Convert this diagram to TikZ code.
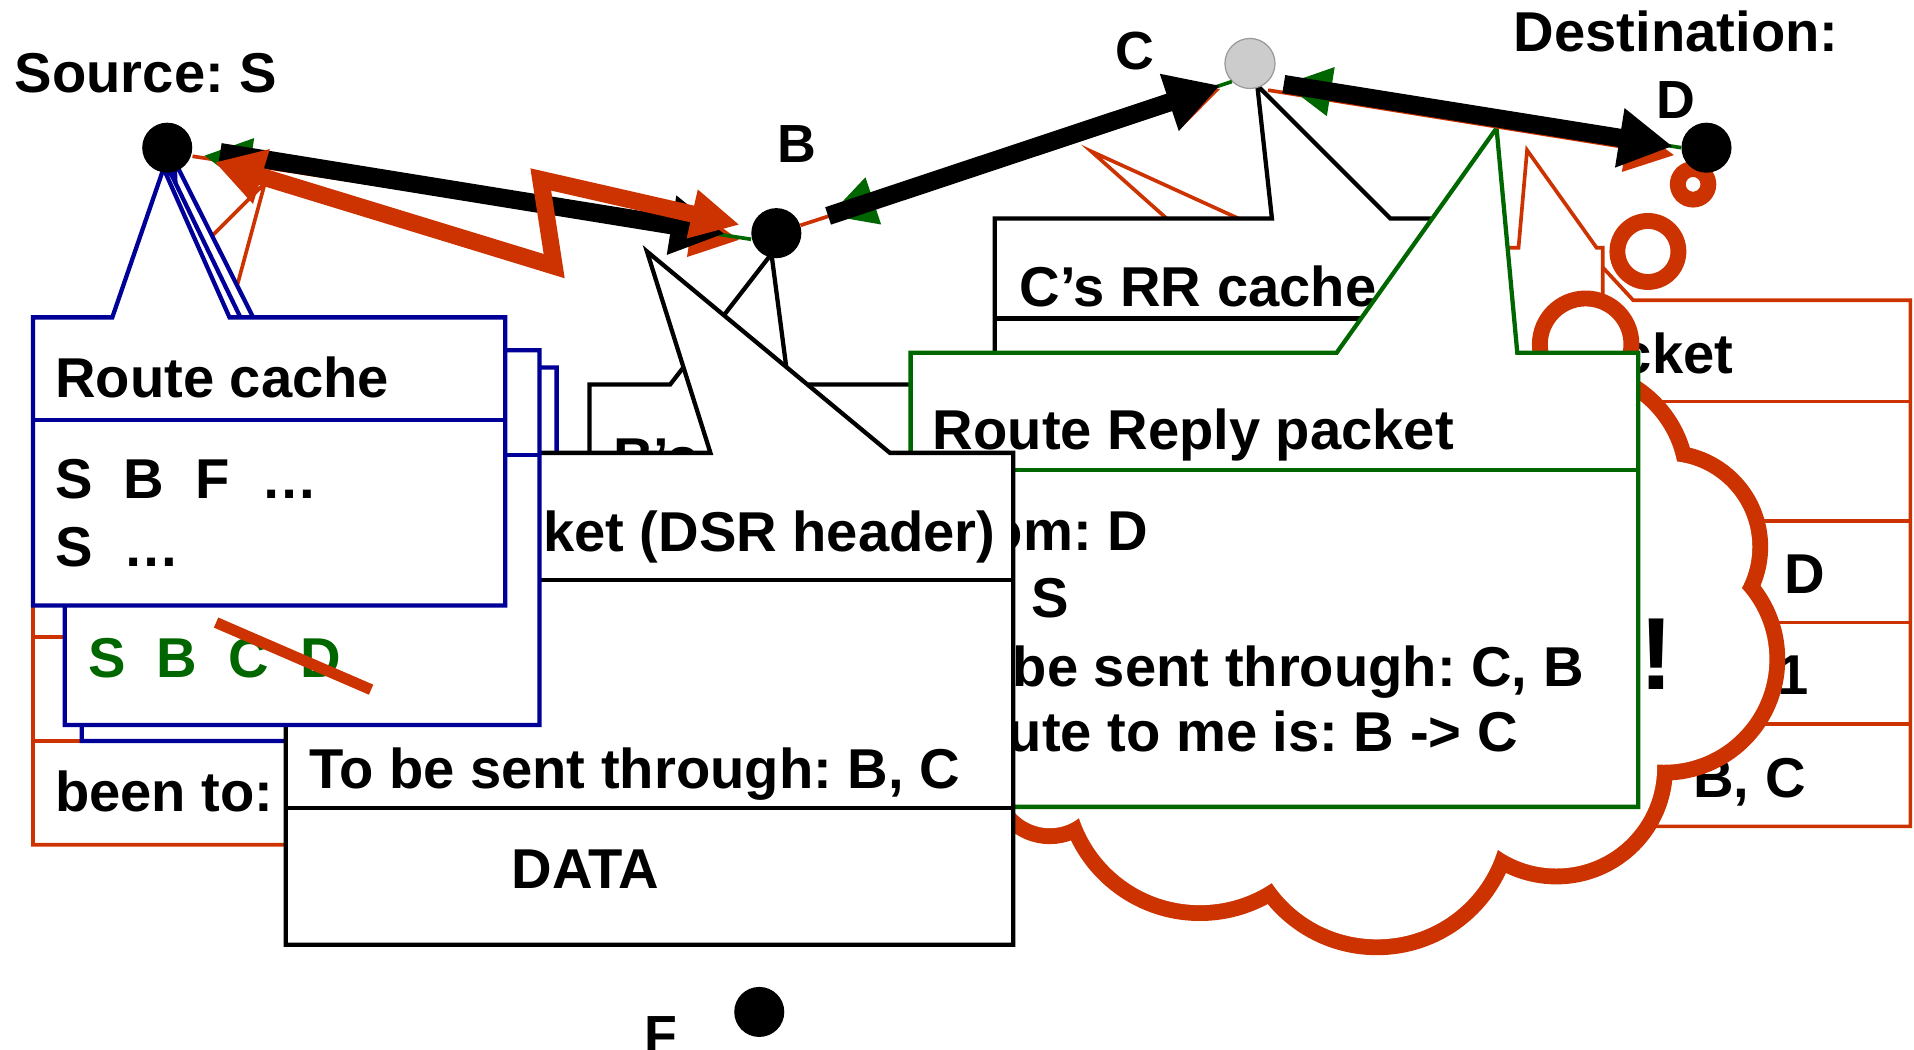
\documentclass[tikz,border=0pt]{standalone}
\usepackage{fontspec}
\setmainfont{Liberation Sans}
\usetikzlibrary{arrows.meta}
\frenchspacing

\definecolor{rreq}{RGB}{204,51,0}
\definecolor{rrep}{RGB}{0,102,0}
\definecolor{cacheblue}{RGB}{0,0,153}
\definecolor{nodegray}{RGB}{204,204,204}

\newcommand{\slidefont}{\fontsize{46}{52}\selectfont\bfseries}

\begin{document}
\begin{tikzpicture}[x=1pt,y=-1pt]

    \tikzset{
      host/.style={circle, fill=black, inner sep=0pt, minimum size=41pt},
      txt/.style={anchor=base west, inner sep=0pt, font=\slidefont},
      lbl/.style={anchor=base west, inner sep=0pt, font=\fontsize{44}{48}\selectfont\bfseries},
      pane/.style={fill=white, line width=3.5pt, line join=miter},
      cloudline/.style={draw=rreq, line width=13pt},
      datalink/.style={draw=black, line width=15pt, -{Triangle[length=44pt,width=46pt]}},
      reqlink/.style={draw=rreq, line width=3pt, -{Triangle[length=40pt,width=40pt]}},
      replink/.style={draw=rrep, line width=3pt, {Triangle[length=38pt,width=40pt]}-},
      brokenlink/.style={draw=rreq, line width=14pt, line join=miter,
        {Triangle[length=40pt,width=44pt]}-{Triangle[length=40pt,width=38pt]}},
    }
    \useasboundingbox (0,0) rectangle (1568,860);

    % route request kept at S
    \draw[pane, draw=rreq, line width=3pt] (27,272) -- (95,272) -- (217,150) -- (184,272) -- (410,272) -- (410,692) -- (27,692) -- cycle;
    \draw[rreq, line width=3pt] (27,522) -- (410,522) (27,607) -- (410,607);
    \node[txt] (beento) at (45,665) {been to:};

    % oldest route cache copy
    \draw[pane, draw=cacheblue] (67,301) -- (150,301) -- (143,132) -- (228,301) -- (456,301) -- (456,607) -- (67,607) -- cycle;
    \draw[cacheblue, line width=3.5pt] (67,385) -- (456,385);

    % B's cache
    \draw[pane, draw=black] (483,600) -- (483,315) -- (549,315) -- (632,208) -- (646,315) -- (800,315) -- (800,600) -- cycle;
    \node[txt] (Bcache) at (502,391) {B’s};

    % request seen at C
    \draw[pane, draw=rreq, line width=3pt] (880,181) -- (958,181) -- (894,124) -- (1019,181) -- (1180,181) -- (1180,500) -- (880,500) -- cycle;

    % request arriving at D
    \draw[pane, draw=rreq, line width=3pt] (1230,246) -- (1290,246) -- (1300,205) -- (1338,246) -- (1565,246) -- (1565,677) -- (1230,677) -- cycle;
    \foreach \y in {329,427,510,593}
      \draw[rreq, line width=3pt] (1230,\y) -- (1565,\y);
    \node[txt] (rreqhead) at (1274,306) {packet};
    \node[txt] (rreqdst) at (1462,486) {D};
    \node[txt] (rreqid) at (1456,569) {1};
    \node[txt] (rreqseen) at (1387,653) {B, C};

    \draw[pane, draw=rreq, line width=3pt] (1000,203) -- (1244,203) -- (1251,123) -- (1308,203) -- (1313,203) -- (1313,600) -- (1000,600) -- cycle;

    % C's RR cache
    \draw[pane, draw=black] (815,179) -- (1042,179) -- (1030,70) -- (1139,179) -- (1200,179) -- (1200,330) -- (815,330) -- cycle;
    \draw[line width=3.5pt] (815,261) -- (1200,261);
    \node[txt] (Ccache) at (835,251) {C’s RR cache};

    % thought cloud of D
    \foreach \cx/\cy/\r in {860/640/38.5, 983/637/104.5, 1128/666/103.5, 1275/629/82.5, 1363/540/86.5, 1365/448/70.5, 1290/395/85.5}
      \draw[cloudline, line width=26pt] (\cx,\cy) circle[radius=\r pt];
    \foreach \cx/\cy/\r in {860/640/38.5, 983/637/104.5, 1128/666/103.5, 1275/629/82.5, 1363/540/86.5, 1365/448/70.5, 1290/395/85.5}
      \fill[white] (\cx,\cy) circle[radius=\r pt];
    \fill[white] (860,640) -- (983,637) -- (1128,666) -- (1275,629) -- (1363,540) -- (1365,448) -- (1290,395) -- (900,400) -- cycle;
    \draw[cloudline, fill=white] (1299,282) circle[radius=37.5pt];
    \draw[cloudline, fill=white] (1350,206) circle[radius=25pt];
    \draw[cloudline, fill=white] (1387,151) circle[radius=12.5pt];
    \node[anchor=base, inner sep=0pt, font=\fontsize{84}{90}\selectfont\bfseries] (bang) at (1357,565) {!};

    % route reply at C
    \draw[pane, draw=rrep] (746,289) -- (1095,289) -- (1226,105) -- (1243,289) -- (1342,289) -- (1342,661) -- (746,661) -- cycle;
    \draw[rrep, line width=3.5pt] (746,385) -- (1342,385);
    \node[txt] (rrephead) at (764,368) {Route Reply packet};
    \node[txt] (rrepfrom) at (764,451) {From: D};
    \node[txt] (rrepto) at (764,506) {To: S};
    \node[txt] (rrepvia) at (764,562) {To be sent through: C, B};
    \node[txt] (rreppath) at (764,616) {Route to me is: B -> C};

    % data packet
    \draw[pane, draw=black] (234,371) -- (582,371) -- (530,206) -- (729,371) -- (830,371) -- (830,774) -- (234,774) -- cycle;
    \draw[line width=3.5pt] (234,475) -- (830,475) (234,662) -- (830,662);
    \node[txt] (dsrhead) at (253,452) {Data packet (DSR header)};
    \node[txt] (dsrvia) at (253,646) {To be sent through: B, C};
    \node[txt] (dsrdata) at (419,728) {DATA};

    % route caches at S
    \draw[pane, draw=cacheblue] (53,287) -- (108,287) -- (138,138) -- (210,287) -- (442,287) -- (442,594) -- (53,594) -- cycle;
    \draw[cacheblue, line width=3.5pt] (53,373) -- (442,373);
    \node[txt, text=rrep] (stale) at (72,555) {S~~B~~C~~D};
    \draw[rreq, line width=9pt] (177,510) -- (304,565);

    \draw[pane, draw=cacheblue] (27,260) -- (92,260) -- (134,138) -- (188,260) -- (414,260) -- (414,496) -- (27,496) -- cycle;
    \draw[cacheblue, line width=3.5pt] (27,344) -- (414,344);
    \node[txt] (cachehead) at (45,326) {Route cache};
    \node[txt] (cacheone) at (45,408) {S~~B~~F~~…};
    \node[txt] (cachetwo) at (45,464) {S~~…};

    % hosts
    \node[host] (S) at (137,121) {};
    \node[host] (B) at (636,191) {};
    \node[host, fill=nodegray, draw=gray!80, line width=1pt] (C) at (1024,52) {};
    \node[host] (D) at (1398,121) {};
    \node[host] (F) at (622,829) {};

    \node[txt] (Slbl) at (12,76) {Source: S};
    \node[txt] (Dtitle) at (1240,42) {Destination:};
    \node[lbl] (Blbl) at (637,133) {B};
    \node[lbl] (Clbl) at (914,57) {C};
    \node[lbl] (Dlbl) at (1357,97) {D};
    \node[lbl] (Flbl) at (528,863) {F};

    % links
    \coordinate (bend1) at (454,218);
    \coordinate (bend2) at (443,147);

    \draw[reqlink, shorten >=10pt] ([yshift=-7pt]S.east) -- ([yshift=-7pt]B.west);
    \draw[replink, shorten <=10pt] ([yshift=-5pt]S.east) -- ([yshift=-5pt]B.west);
    \draw[datalink, shorten <=23pt, shorten >=22pt] (S.east) -- ([yshift=-4pt]B.west);
    \draw[brokenlink, shorten <=20pt, shorten >=10pt] (S) -- (bend1) -- (bend2) -- (B);

    \draw[reqlink, shorten >=10pt] (B) -- ([yshift=-3pt]C.south west);
    \draw[replink, shorten <=25pt] (B) -- (C.south west);
    \draw[datalink, shorten <=24pt, shorten >=10pt] (B) -- (C.south west);

    \draw[reqlink, shorten >=6pt] ([yshift=-7pt]C.south east) -- ([yshift=-7pt]D.west);
    \draw[replink, shorten <=14pt] (C.south east) -- (D.west);
    \draw[datalink, shorten <=13pt, shorten >=7pt] (C.south east) -- (D.west);

\end{tikzpicture}
\end{document}
